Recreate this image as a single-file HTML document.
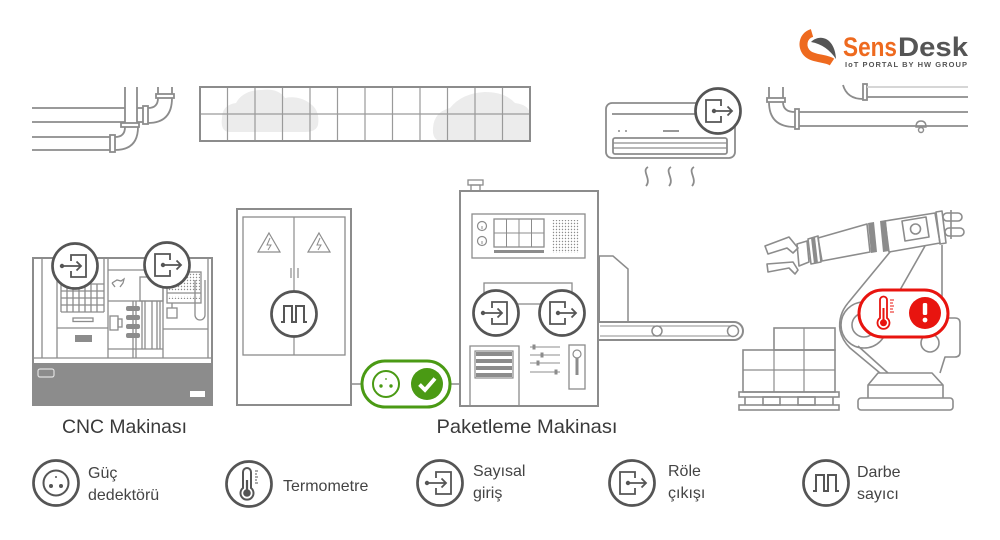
<!DOCTYPE html>
<html><head><meta charset="utf-8">
<style>
html,body{margin:0;padding:0;background:#fff;}
svg{display:block;}
text{font-family:"Liberation Sans","DejaVu Sans",sans-serif;}
</style></head><body>
<svg width="1000" height="540" viewBox="0 0 1000 540" xmlns="http://www.w3.org/2000/svg">
<defs>
  <pattern id="dots" width="3" height="3" patternUnits="userSpaceOnUse">
    <circle cx="1.5" cy="1.5" r="0.7" fill="#8c8c8c"/>
  </pattern>
  <g id="icIn">
    <circle r="22.5" fill="#fff" stroke="#555" stroke-width="2.7"/>
    <path d="M-4,-5V-11H11V11H-4V5" fill="none" stroke="#555" stroke-width="1.8"/>
    <path d="M-13,0H6M1.5,-4.5L6,0L1.5,4.5" fill="none" stroke="#555" stroke-width="1.8"/>
    <circle cx="-13" cy="0" r="2.2" fill="#555"/>
  </g>
  <g id="icOut">
    <circle r="22.5" fill="#fff" stroke="#555" stroke-width="2.7"/>
    <path d="M3,-5V-11H-12V11H3V5" fill="none" stroke="#555" stroke-width="1.8"/>
    <path d="M-4,0H14M9.5,-4.5L14,0L9.5,4.5" fill="none" stroke="#555" stroke-width="1.8"/>
    <circle cx="-4" cy="0" r="2.2" fill="#555"/>
  </g>
  <g id="icPulse">
    <circle r="22.5" fill="#fff" stroke="#555" stroke-width="2.7"/>
    <path d="M-13,8H-10V-8H-2V8H2V-8H10V8H13" fill="none" stroke="#555" stroke-width="2"/>
  </g>
  <g id="icSock">
    <circle r="22.5" fill="#fff" stroke="#555" stroke-width="2.7"/>
    <circle r="12.5" fill="none" stroke="#555" stroke-width="2"/>
    <circle cx="-5" cy="3" r="2" fill="#555"/>
    <circle cx="5" cy="3" r="2" fill="#555"/>
    <circle cx="0" cy="-6" r="1" fill="#555"/>
  </g>
  <g id="icTherm">
    <circle r="22.5" fill="#fff" stroke="#555" stroke-width="2.7"/>
    <path d="M-6,4V-12A4,4 0 0 1 2,-12V4A6.5,6.5 0 1 1 -6,4Z" fill="none" stroke="#555" stroke-width="2"/>
    <circle cx="-2" cy="9" r="3.8" fill="#555"/>
    <line x1="-2" y1="-4" x2="-2" y2="8" stroke="#555" stroke-width="2.2"/>
    <path d="M6,-13H9M6,-10H8M6,-7H9M6,-4H8M6,-1H9" stroke="#555" stroke-width="1"/>
  </g>
</defs>

<!-- ===== LOGO ===== -->
<path d="M812,33 C802,36 801,48 808,54 C814,59 826,58 832,62" fill="none" stroke="#ee6a1f" stroke-width="8"/>
<path d="M811,42 C820,33 835,38 836,59 C830,50 822,44 811,42 Z" fill="#555"/>
<text x="843" y="56" font-size="27" font-weight="bold" fill="#ee6a1f" textLength="54" lengthAdjust="spacingAndGlyphs">Sens</text>
<text x="898" y="56" font-size="27" font-weight="bold" fill="#555" textLength="70" lengthAdjust="spacingAndGlyphs">Desk</text>
<text x="845" y="67" font-size="7.5" font-weight="bold" fill="#555" textLength="122" lengthAdjust="spacing">IoT PORTAL BY HW GROUP</text>

<!-- ===== TOP LEFT PIPES ===== -->
<g fill="none" stroke="#8c8c8c" stroke-width="1.8">
  <path d="M32,108H125M32,122H125M137,108H143M137,122H143"/>
  <path d="M125,87V123M137,87V123"/>
  <path d="M32,137H110M32,150H110"/>
  <rect x="110" y="135" width="5" height="17"/>
  <rect x="121" y="123" width="18" height="4"/>
  <path d="M115,150 Q138,150 138,127 M115,137 Q125,137 125,127"/>
  <rect x="143" y="106" width="5" height="18"/>
  <rect x="156" y="94" width="18" height="4"/>
  <path d="M148,123 Q172,123 172,98 M148,108 Q158,108 158,98"/>
  <path d="M158,87V94M172,87V94"/>
</g>

<!-- ===== TOP PANEL ===== -->
<path d="M230,132 Q220,132 222,118 Q222,105 236,103 Q243,90 262,90 Q278,88 285,98 Q300,95 312,105 Q320,112 318,125 Q316,132 305,132 Z" fill="#ececec"/>
<path d="M442,141 Q432,141 433,128 Q434,112 450,108 Q462,93 485,92 Q505,92 515,103 Q530,105 530,115 V141 Z" fill="#ececec"/>
<g fill="none" stroke="#9a9a9a" stroke-width="1.2">
  <path d="M200,114H530"/>
  <path d="M227.5,87V141M255,87V141M282.5,87V141M310,87V141M337.5,87V141M365,87V141M392.5,87V141M420,87V141M447.5,87V141M475,87V141M502.5,87V141"/>
</g>
<rect x="200" y="87" width="330" height="54" fill="none" stroke="#8c8c8c" stroke-width="2"/>

<!-- ===== AIR CONDITIONER ===== -->
<g fill="none" stroke="#8c8c8c" stroke-width="1.8">
  <rect x="606" y="103" width="129" height="55" rx="6"/>
  <path d="M612,114H705"/>
  <path d="M663,131H679"/>
  <rect x="613" y="138" width="114" height="16" rx="2"/>
  <path d="M613,143H727M613,148H727" stroke-width="1.2"/>
  <path d="M648,167 C641,171 652,179 646,186"/>
  <path d="M671,167 C664,171 675,179 669,186"/>
  <path d="M694,167 C687,171 698,179 692,186"/>
</g>
<circle cx="619" cy="131" r="1" fill="#8c8c8c"/>
<circle cx="626" cy="131" r="1" fill="#8c8c8c"/>
<use href="#icOut" x="718" y="111"/>

<!-- ===== TOP RIGHT PIPES ===== -->
<g fill="none" stroke="#8c8c8c" stroke-width="1.8">
  <path d="M769,87V98M783,87V98"/>
  <rect x="767" y="98" width="18" height="4"/>
  <path d="M769,102 Q769,127 795,127 M783,102 Q783,112 795,112"/>
  <rect x="795" y="109" width="4" height="20"/>
  <path d="M799,112H968M799,126H968"/>
  <path d="M843,85 Q847,99 863,99"/>
  <rect x="863" y="84" width="4" height="16"/>
  <path d="M867,97H968"/>
  <path d="M867,87H968" stroke="#d0d0d0"/>
  <path d="M916,127 Q916,121 921,121 Q926,121 926,127 Z" stroke-width="1.4"/>
  <circle cx="921" cy="130" r="2.5" stroke-width="1.4"/>
</g>

<!-- ===== CNC MACHINE ===== -->
<g fill="none" stroke="#8c8c8c" stroke-width="1.3">
  <rect x="33" y="258" width="179" height="147" stroke-width="2"/>
  <path d="M33,358H212"/>
  <path d="M42,258V358M57,258V358M108,258V358M163,270V358M208,258V358"/>
  <path d="M61,258V312M104,258V312"/>
  <path d="M61,284H104M61,291H104M61,298H104M61,305H104M61,312H104"/>
  <path d="M67,284V312M73,284V312M79,284V312M85,284V312M91,284V312M97,284V312"/>
  <rect x="73" y="318" width="20" height="3.5"/>
  <path d="M57,328H108"/>
  <path d="M108,270H163"/>
  <path d="M112,283 l5,-3 l4,1 l3,-2 l-1,4 l-3,4 M112,283 l3,4"/>
  <path d="M108,301H163M108,349H163"/>
  <rect x="140" y="277" width="23" height="24"/>
  <path d="M133,301V358M136,301V358"/>
  <path d="M142,301V349M145,301V349M152,301V349M157,301V349M160,301V349"/>
  <rect x="110" y="316" width="8" height="14"/>
  <rect x="118" y="319" width="4" height="8"/>
  <rect x="167" y="272" width="34" height="31"/>
  <path d="M167,293H201"/>
  <path d="M172,303V308"/>
  <rect x="167" y="308" width="10" height="10"/>
  <path d="M195,280V315A5,5 0 0 0 205,315V280"/>
  <path d="M163,329H208"/>
</g>
<rect x="168" y="273" width="32" height="18" fill="url(#dots)"/>
<rect x="168" y="296" width="32" height="3" fill="url(#dots)"/>
<g fill="#8c8c8c">
  <rect x="75" y="335" width="17" height="7"/>
  <rect x="126" y="306" width="14" height="5" rx="2"/>
  <rect x="126" y="315" width="14" height="5" rx="2"/>
  <rect x="126" y="324" width="14" height="5" rx="2"/>
  <rect x="126" y="333" width="14" height="5" rx="2"/>
  <rect x="33" y="363" width="179" height="42"/>
</g>
<rect x="38" y="369" width="16" height="8" rx="2" fill="none" stroke="#e0e0e0" stroke-width="1.2"/>
<rect x="190" y="391" width="15" height="6" fill="#fff"/>
<use href="#icIn" x="75" y="266"/>
<use href="#icOut" x="167" y="265"/>

<!-- ===== CABINET ===== -->
<g fill="none" stroke="#8c8c8c">
  <rect x="237" y="209" width="114" height="196" stroke-width="2"/>
  <rect x="243" y="217" width="102" height="138" stroke-width="1.3"/>
  <path d="M294,217V355" stroke-width="1.2"/>
  <path d="M269,233L280,252H258Z" stroke-width="1.2"/>
  <path d="M319,233L330,252H308Z" stroke-width="1.2"/>
  <path d="M270,238L267,245H271L268,250M320,238L317,245H321L318,250" stroke-width="1"/>
  <path d="M291,268V278M298,268V278" stroke-width="1.2"/>
  <path d="M351,384H362M450,384H460" stroke-width="1.5"/>
</g>
<use href="#icPulse" x="294" y="314"/>

<!-- green badge -->
<rect x="362" y="361" width="88" height="46" rx="23" fill="#fff" stroke="#4a9a14" stroke-width="3"/>
<circle cx="386" cy="384" r="13" fill="none" stroke="#4a9a14" stroke-width="2"/>
<circle cx="381" cy="386" r="1.7" fill="#4a9a14"/>
<circle cx="391" cy="386" r="1.7" fill="#4a9a14"/>
<circle cx="386" cy="379" r="0.9" fill="#4a9a14"/>
<circle cx="427" cy="384" r="16" fill="#4a9a14"/>
<path d="M419.5,384.5L425,390L435,378.5" fill="none" stroke="#fff" stroke-width="3.8"/>

<!-- ===== CONVEYOR ===== -->
<g fill="none" stroke="#8c8c8c">
  <path d="M598,256H613L628,269V322" stroke-width="1.5"/>
  <rect x="590" y="322" width="153" height="18" rx="9" stroke-width="2"/>
  <path d="M600,326H735M600,336H735" stroke-width="1"/>
  <circle cx="657" cy="331" r="5" fill="#fff" stroke-width="1.5"/>
  <circle cx="733" cy="331" r="5.5" fill="#fff" stroke-width="1.5"/>
</g>
<rect x="597" y="256" width="3" height="66" fill="#8c8c8c"/>

<!-- ===== PACKAGING MACHINE ===== -->
<g fill="none" stroke="#8c8c8c">
  <rect x="460" y="191" width="138" height="215" fill="#fff" stroke-width="2"/>
  <rect x="468" y="180" width="15" height="5" stroke-width="1.3"/>
  <rect x="471" y="185" width="9" height="6" stroke-width="1.3"/>
  <rect x="472" y="214" width="113" height="44" stroke-width="1.3"/>
  <circle cx="482" cy="226" r="4.5" stroke-width="1.2"/>
  <circle cx="482" cy="241" r="4.5" stroke-width="1.2"/>
  <path d="M482,226V229M482,241V244" stroke-width="1"/>
  <rect x="494" y="219" width="50" height="28" stroke-width="1.3"/>
  <path d="M506.5,219V247M519,219V247M531.5,219V247M494,233H544" stroke-width="1"/>
  <rect x="484" y="283" width="88" height="21" stroke-width="1.3"/>
  <path d="M470,406V346H519V406" stroke-width="1.3"/>
  <rect x="475" y="351" width="38" height="27" stroke-width="1.2"/>
  <path d="M530,347H560M530,355H560M530,363H560M530,372H560" stroke-width="1.1"/>
  <rect x="569" y="345" width="16" height="44" stroke-width="1.3"/>
  <circle cx="577" cy="354" r="4" stroke-width="1.2"/>
</g>
<rect x="494" y="250" width="50" height="3" fill="#8c8c8c"/>
<rect x="552" y="220" width="27" height="33" fill="url(#dots)"/>
<g fill="#8c8c8c">
  <rect x="476" y="352" width="36" height="4"/>
  <rect x="476" y="359" width="36" height="4"/>
  <rect x="476" y="366" width="36" height="4"/>
  <rect x="476" y="373" width="36" height="4"/>
  <rect x="532.5" y="344.5" width="3" height="5"/>
  <rect x="540.5" y="352.5" width="3" height="5"/>
  <rect x="536.5" y="360.5" width="3" height="5"/>
  <rect x="554.5" y="369.5" width="3" height="5"/>
  <rect x="575.5" y="358" width="3" height="17"/>
</g>
<use href="#icIn" x="496" y="313"/>
<use href="#icOut" x="562" y="313"/>

<!-- ===== PALLET ===== -->
<g fill="none" stroke="#8c8c8c" stroke-width="1.6">
  <rect x="743" y="350" width="92" height="42"/>
  <rect x="774" y="328" width="61" height="22"/>
  <path d="M774,350V392M804,328V392M743,370H835" stroke-width="1.2"/>
  <rect x="739" y="392" width="100" height="5"/>
  <rect x="739" y="405" width="100" height="5"/>
  <path d="M745,397V405M833,397V405"/>
  <rect x="763" y="397" width="17" height="8"/>
  <rect x="798" y="397" width="17" height="8"/>
</g>

<!-- ===== ROBOT ===== -->
<g fill="none" stroke="#8c8c8c" stroke-width="1.6" stroke-linejoin="round">
  <rect x="858" y="398" width="95" height="12" rx="3"/>
  <path d="M868,398V385L878,373H932L943,385V398M868,385H943"/>
  <path d="M848,303 Q838,315 840,330 Q842,340 850,348 L880,373"/>
  <path d="M858,346 L888,373"/>
  <circle cx="864" cy="325" r="23"/>
  <circle cx="864" cy="325" r="12"/>
  <path d="M890,252L848,303M925,246L900,290M942,245V318"/>
  <path d="M942,318H955Q960,318 960,323V352Q960,357 955,357H945L940,373"/>
  <circle cx="930" cy="343" r="9"/>
  <polygon points="765,246 789,237 798,248 793,253 787,248 768,254"/>
  <polygon points="767,264 793,262 798,270 795,274 789,268 768,272"/>
  <polygon points="797,244 807,241 809,262 799,266"/>
  <polygon points="808,239 818,236 821,262 811,264"/>
  <polygon points="818,238 867,224 870,252 822,261"/>
  <polygon points="885,221 935,213 940,243 889,252"/>
  <polygon points="902,221 926,217 929,237 905,241"/>
  <circle cx="915.5" cy="229" r="5"/>
  <polygon points="936,212 942,211 946,243 940,244"/>
  <rect x="943" y="213" width="19" height="8" rx="4"/>
  <rect x="945" y="228" width="19" height="8" rx="4"/>
  <path d="M951,210V239"/>
</g>
<g fill="#8c8c8c">
  <polygon points="811,238 815,237 818,263 814,264"/>
  <polygon points="868,223 874,222 877,252 871,253"/>
  <polygon points="880,221 886,220 889,251 883,252"/>
</g>
<rect x="859" y="290" width="89" height="47" rx="23.5" fill="#fff" stroke="#e8140f" stroke-width="3"/>
<g transform="translate(885,313)">
  <path d="M-5,5V-13A3.5,3.5 0 0 1 2,-13V5A6,6 0 1 1 -5,5Z" fill="none" stroke="#e8140f" stroke-width="1.8"/>
  <circle cx="-1.5" cy="9.8" r="3.5" fill="#e8140f"/>
  <line x1="-1.5" y1="-5" x2="-1.5" y2="8" stroke="#e8140f" stroke-width="2"/>
  <path d="M5,-13H9M5,-10H8M5,-7H9M5,-4H8M5,-1H9" stroke="#e8140f" stroke-width="1"/>
</g>
<circle cx="925" cy="313" r="16" fill="#e8140f"/>
<rect x="922.8" y="303" width="4.4" height="12" rx="1.5" fill="#fff"/>
<circle cx="925" cy="320" r="2.4" fill="#fff"/>

<!-- ===== MACHINE LABELS ===== -->
<text x="124.5" y="433" font-size="19.5" fill="#3a3a3a" text-anchor="middle" textLength="125" lengthAdjust="spacingAndGlyphs">CNC Makinası</text>
<text x="527" y="433" font-size="19.5" fill="#3a3a3a" text-anchor="middle" textLength="181" lengthAdjust="spacingAndGlyphs">Paketleme Makinası</text>

<!-- ===== LEGEND ===== -->
<use href="#icSock" x="56" y="483"/>
<use href="#icTherm" x="249" y="484"/>
<use href="#icIn" x="440" y="483"/>
<use href="#icOut" x="632" y="483"/>
<use href="#icPulse" x="826" y="483"/>
<g font-size="16" fill="#444">
  <text x="88" y="478">Güç</text>
  <text x="88" y="500">dedektörü</text>
  <text x="283" y="491">Termometre</text>
  <text x="473" y="476">Sayısal</text>
  <text x="473" y="498">giriş</text>
  <text x="668" y="476">Röle</text>
  <text x="668" y="498">çıkışı</text>
  <text x="857" y="477">Darbe</text>
  <text x="857" y="499">sayıcı</text>
</g>
</svg>
</body></html>
